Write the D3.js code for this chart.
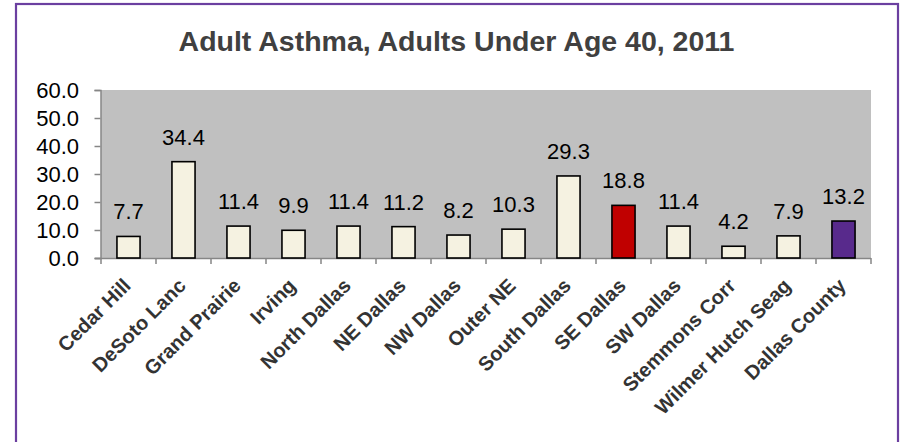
<!DOCTYPE html>
<html>
<head>
<meta charset="utf-8">
<script src="https://cdn.jsdelivr.net/npm/d3@7"></script>
<style>
  html, body { margin: 0; padding: 0; background: #fff; }
  svg { display: block; }
</style>
</head>
<body>
<svg id="chart" width="901" height="442"></svg>
<script>
// Adult asthma prevalence (%) among adults under 40, by area, 2011
const categories = ["Cedar Hill", "DeSoto Lanc", "Grand Prairie", "Irving", "North Dallas",
  "NE Dallas", "NW Dallas", "Outer NE", "South Dallas", "SE Dallas", "SW Dallas",
  "Stemmons Corr", "Wilmer Hutch Seag", "Dallas County"];
const values = [7.7, 34.4, 11.4, 9.9, 11.4, 11.2, 8.2, 10.3, 29.3, 18.8, 11.4, 4.2, 7.9, 13.2];
const yTicks = [0, 10, 20, 30, 40, 50, 60];
const highlight = { "SE Dallas": "#C00000", "Dallas County": "#582A8C" };
const baseFill = "#F5F2E1";
const title = "Adult Asthma, Adults Under Age 40, 2011";

const FONT = "Liberation Sans, Arial, sans-serif";
const svg = d3.select("#chart");
const plot = { left: 101, right: 871, top: 90, bottom: 258 };

// Outer chart frame
svg.append("rect")
  .attr("x", 16).attr("y", 4)
  .attr("width", 882).attr("height", 460)
  .attr("fill", "#fff")
  .attr("stroke", "#6B3FA0").attr("stroke-width", 2.2);

// Title
svg.append("text")
  .attr("x", 456.5).attr("y", 51)
  .attr("text-anchor", "middle")
  .attr("font-family", FONT)
  .attr("font-weight", "bold").attr("font-size", 28.5)
  .attr("fill", "#404040")
  .text(title);

const x = d3.scaleBand().domain(categories)
  .range([plot.left, plot.right]).paddingInner(0.58).paddingOuter(0.29);
const y = d3.scaleLinear().domain([0, 60]).range([plot.bottom, plot.top]);

// Plot area background
svg.append("rect")
  .attr("x", plot.left).attr("y", plot.top)
  .attr("width", plot.right - plot.left).attr("height", plot.bottom - plot.top)
  .attr("fill", "#C0C0C0");

// Y axis
const yAxis = svg.append("g")
  .attr("transform", `translate(${plot.left - 0.5},0)`)
  .call(d3.axisLeft(y).tickValues(yTicks).tickFormat(d3.format(".1f")).tickSize(6).tickPadding(15.5));
yAxis.select(".domain").attr("stroke", "#868686").attr("stroke-width", 1.5);
yAxis.selectAll(".tick line").attr("stroke", "#868686").attr("stroke-width", 1.5);
yAxis.selectAll(".tick text")
  .attr("font-family", FONT)
  .attr("font-size", 22).attr("fill", "#000");

// X axis with ticks at band boundaries
const bandEdges = categories.map(c => x(c) - x.step() * x.paddingInner() / 2)
  .concat([plot.right]);
const xAxisG = svg.append("g");
xAxisG.append("line")
  .attr("x1", plot.left - 6).attr("x2", plot.right)
  .attr("y1", plot.bottom + 0.5).attr("y2", plot.bottom + 0.5)
  .attr("stroke", "#868686").attr("stroke-width", 1.5);
xAxisG.selectAll("line.tk").data(bandEdges).join("line")
  .attr("class", "tk")
  .attr("x1", d => d).attr("x2", d => d)
  .attr("y1", plot.bottom).attr("y2", plot.bottom + 6)
  .attr("stroke", "#868686").attr("stroke-width", 1.5);

// Bars
const data = categories.map((c, i) => ({ c, v: values[i] }));
svg.append("g").selectAll("rect").data(data).join("rect")
  .attr("x", d => x(d.c))
  .attr("y", d => y(d.v))
  .attr("width", x.bandwidth())
  .attr("height", d => y(0) - y(d.v))
  .attr("fill", d => highlight[d.c] || baseFill)
  .attr("stroke", "#000").attr("stroke-width", 1.6);

// Value labels
svg.append("g").selectAll("text").data(data).join("text")
  .attr("x", d => x(d.c) + x.bandwidth() / 2)
  .attr("y", d => y(d.v) - 17)
  .attr("text-anchor", "middle")
  .attr("font-family", FONT)
  .attr("font-size", 22).attr("fill", "#000")
  .text(d => d3.format(".1f")(d.v));

// Rotated category labels
svg.append("g").selectAll("text").data(categories).join("text")
  .attr("transform", d => `translate(${x(d) + x.bandwidth() / 2 + 3.5},${plot.bottom + 29}) rotate(-45)`)
  .attr("text-anchor", "end")
  .attr("font-family", FONT)
  .attr("font-weight", "bold").attr("font-size", 20)
  .attr("fill", "#333")
  .text(d => d);
</script>
</body>
</html>
